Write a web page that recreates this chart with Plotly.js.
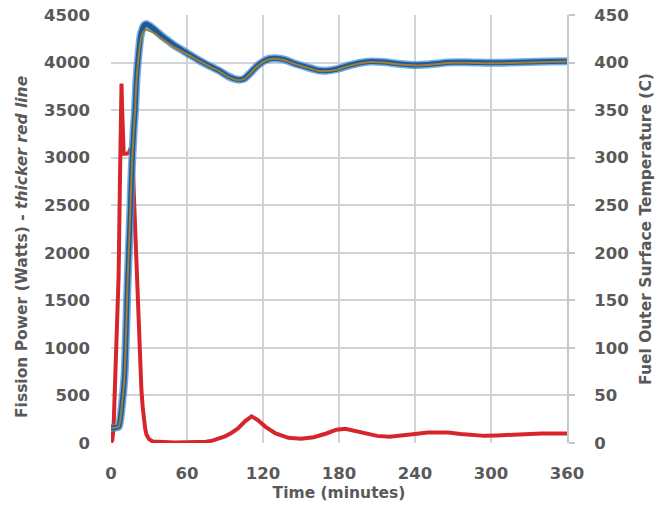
<!DOCTYPE html>
<html>
<head>
<meta charset="utf-8">
<script src="https://cdn.plot.ly/plotly-3.0.1.min.js"></script>
<style>html,body{margin:0;padding:0;background:#fff;}#chart{width:671px;height:509px;}</style>
</head>
<body>
<div id="chart"></div>
<script>
// Fission power (W), red line, left axis
const powerTime = [0,1,2,3,4,5,6,7,7.8,8.3,8.8,9.3,10,12,14,15.5,16.5,17.5,18.5,20,21,22,23,24,25,26,27,28,30,33,40,50,60,70,75,80,85,90,95,100,106,111,116,122,130,140,150,160,170,178,185,192,200,210,220,230,240,250,258,266,276,286,295,305,320,340,360];
const powerWatts = [5,30,150,500,950,1350,1750,2700,3450,3780,3500,3100,3040,3040,3050,3100,3050,2800,2450,1900,1600,1150,800,560,380,240,150,90,40,15,8,6,8,10,14,25,45,70,105,150,230,280,240,170,100,55,45,60,100,140,150,130,100,75,65,75,95,110,115,110,95,80,75,80,90,100,100];

// Fuel outer surface temperature (C), blue line, right axis
const tempTime = [0,3,6,7,8,9,10,11,12,13,14,15,16,17,18,19,20,21,22,23,24,25,26,28,30,35,40,46,50,60,70,80,86,92,97,101,105,110,115,120,125,130,137,145,155,163,170,178,188,196,205,215,225,235,242,250,260,270,281,290,300,315,330,345,360];
const tempBlue = [16,16,17,22,32,45,58,78,120,165,200,235,275,305,330,350,380,398,412,425,432,436,439,440.5,439,434,428,422,418,410,402,395,391,386,383,382,383,389,396,401,404,404.5,403,399,395,392,391.5,393,397,399.5,401,400.5,399,397.8,397.5,398,399.3,400.2,400.3,400,399.8,400,400.5,401,401.5];
const tempBrown = [16,16,17,22,32,45,58,78,120,165,200,235,275,305,330,350,378,395,408,420,427,431,433,434.5,433.5,430,425,419.5,416,409,401.5,394.5,390.5,385.5,382.5,381.5,382.5,388.5,395.5,400.5,403.5,404,402.5,398.5,394.5,391.5,391,392.5,396.5,399,400.5,400,398.5,397.3,397,397.5,398.8,399.7,399.8,399.5,399.3,399.5,400,400.5,401];

const xTicks = [0,60,120,180,240,300,360];

const fontFam = '"DejaVu Sans", sans-serif';
const gray = '#595959';
const gridC = '#cfd4d8';
const tickFont = {family: fontFam, size: 16.5, color: gray, weight: 700};
const titleFont = {family: fontFam, size: 15.5, color: gray, weight: 700};

const traces = [
  {x: tempTime, y: tempBlue, yaxis: 'y2', mode: 'lines', cliponaxis: false, line: {color: 'rgba(70,145,215,0.75)', width: 8, shape: 'spline', smoothing: 0.6}},
  {x: tempTime, y: tempBlue, yaxis: 'y2', mode: 'lines', cliponaxis: false, line: {color: '#1c5a96', width: 5, shape: 'spline', smoothing: 0.6}},
  {x: tempTime, y: tempBrown, yaxis: 'y2', mode: 'lines', cliponaxis: false, line: {color: '#a27b36', width: 2, shape: 'spline', smoothing: 0.6}},
  {x: powerTime, y: powerWatts, yaxis: 'y', mode: 'lines', cliponaxis: false, line: {color: '#d6262c', width: 4, shape: 'linear'}}
];

const layout = {
  width: 671, height: 509,
  margin: {l: 111, r: 104, t: 15, b: 66, pad: 0},
  paper_bgcolor: '#fff', plot_bgcolor: '#fff',
  showlegend: false,
  font: {family: fontFam, color: gray, size: 16},
  xaxis: {
    range: [0, 360], tickvals: xTicks, ticktext: xTicks.map(String),
    showgrid: true, gridcolor: gridC, gridwidth: 2, zeroline: false, showline: false,
    ticks: '', ticklabelstandoff: 18, tickfont: tickFont,
    title: {text: 'Time (minutes)', font: titleFont, standoff: 5}
  },
  yaxis: {
    range: [0, 4500], dtick: 500, tick0: 0,
    showgrid: true, gridcolor: gridC, gridwidth: 2, zeroline: false, showline: false,
    ticks: '', ticklabelstandoff: 20, tickfont: tickFont
  },
  yaxis2: {
    range: [0, 450], dtick: 50, tick0: 0, overlaying: 'y', side: 'right',
    showgrid: false, zeroline: false, showline: true, linecolor: '#c3c8cc', linewidth: 2,
    ticks: 'outside', ticklen: 6, tickcolor: '#c3c8cc', tickwidth: 2, ticklabelstandoff: 16,
    tickfont: tickFont,
    title: {text: 'Fuel Outer Surface Temperature (C)', font: titleFont, standoff: 12}
  },
  annotations: [{
    text: 'Fission Power (Watts) - <i>thicker red line</i>',
    xref: 'paper', yref: 'paper', x: (22 - 111) / 456, y: (443 - 247) / 428,
    xanchor: 'center', yanchor: 'middle', textangle: -90, showarrow: false,
    font: titleFont
  }]
};

Plotly.newPlot('chart', traces, layout, {staticPlot: true, displayModeBar: false});
</script>
</body>
</html>
